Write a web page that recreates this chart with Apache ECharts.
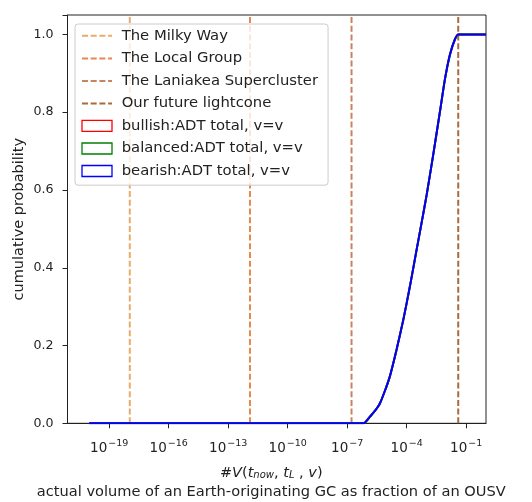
<!doctype html>
<html>
<head>
    <title>Cumulative probability of GC volume</title>
    <script src="https://cdn.jsdelivr.net/npm/echarts@6/dist/echarts.min.js"></script>
</head>
<style>
    html, body {
        margin: 0;
        padding: 0;
        background: #fff;
    }
    #chart {
        width: 532px;
        height: 502px;
    }
</style>
<body>
<div id="chart"></div>
<script>
  // x values are log10 of the volume fraction
  var cdfLogV = [-20, -6.4, -6.1, -5.85, -5.6, -5.35, -5.1, -4.85, -4.51, -4.17, -3.84, -3.5,
                 -3.22, -2.99, -2.66, -2.32, -2.07, -1.82, -1.57, -1.40, 0];
  var bullishProb  = [0, 0, 0.002, 0.017, 0.032, 0.051, 0.083, 0.12, 0.189, 0.266, 0.351, 0.446,
                      0.523, 0.588, 0.691, 0.802, 0.885, 0.948, 0.987, 1.0, 1.0];
  var balancedProb = bullishProb.slice();
  var bearishProb  = bullishProb.slice();

  var markerNames = ['The Milky Way', 'The Local Group', 'The Laniakea Supercluster', 'Our future lightcone'];
  var markerLogV  = [-17.96, -11.9, -6.78, -1.40];
  var markerColors = ['#e6ac6c', '#e6894c', '#c8835f', '#ab6a3e'];

  var curveNames  = ['bullish:ADT total, v=v', 'balanced:ADT total, v=v', 'bearish:ADT total, v=v'];
  var curveColors = ['#ff0000', '#008000', '#0000ff'];

  var xTickValues = [-19, -16, -13, -10, -7, -4, -1];

  var FONT = 'DejaVu Sans';
  var TXT = '#222';
  var Y_TOP = 1.05;

  var chart = echarts.init(document.getElementById('chart'));

  var series = [];
  markerNames.forEach(function (name, i) {
    series.push({
      name: name,
      type: 'line',
      symbol: 'none',
      silent: true,
      z: 3,
      lineStyle: { color: markerColors[i], width: 2, type: [6, 2.7] },
      itemStyle: { color: markerColors[i] },
      data: [[markerLogV[i], 0], [markerLogV[i], Y_TOP]]
    });
  });
  [bullishProb, balancedProb, bearishProb].forEach(function (probs, i) {
    series.push({
      name: curveNames[i],
      type: 'line',
      symbol: 'none',
      smooth: 0.2,
      z: 4,
      lineStyle: { color: curveColors[i], width: 2 },
      itemStyle: { color: curveColors[i] },
      data: cdfLogV.map(function (v, k) { return [v, probs[k]]; })
    });
  });

  var legendData = markerNames.map(function (n) {
      return { name: n, itemStyle: { opacity: 0 } };
    })
    .concat(curveNames.map(function (n, i) {
      return {
        name: n,
        icon: 'rect',
        itemStyle: { color: 'rgba(255,255,255,0)', borderColor: curveColors[i], borderWidth: 1.3 }
      };
    }));

  var option = {
    animation: false,
    backgroundColor: '#fff',
    textStyle: { fontFamily: FONT, color: TXT },
    grid: {
      left: 67.5, right: 46, top: 15, bottom: 78.7,
      outerBoundsMode: 'none',
      containLabel: false,
      show: true, borderColor: '#222', borderWidth: 1, backgroundColor: 'transparent'
    },
    legend: {
      orient: 'vertical',
      left: 75, top: 24,
      padding: [-2.8, 10, -0.5, 6],
      itemWidth: 30, itemHeight: 11, itemGap: -6.8,
      backgroundColor: 'rgba(255,255,255,0.8)',
      borderColor: '#cccccc', borderWidth: 1, borderRadius: 3,
      textStyle: { fontFamily: FONT, fontSize: 14.8, color: TXT },
      formatter: function (name) { return ' ' + name; },
      data: legendData
    },
    xAxis: {
      type: 'value',
      min: -21.1, max: 0,
      splitLine: { show: false },
      axisLine: { onZero: false, lineStyle: { color: '#222' } },
      axisTick: { show: true, inside: false, length: 5, lineStyle: { color: '#222' }, customValues: xTickValues },
      axisLabel: {
        customValues: xTickValues,
        margin: 11,
        color: TXT,
        formatter: function (v) { return '{b|10}{s|\u2212' + Math.abs(v) + '}'; },
        rich: {
          b: { fontFamily: FONT, fontSize: 13.5, color: TXT },
          s: { fontFamily: FONT, fontSize: 9.5, color: TXT, padding: [0, 0, 9, 1] }
        }
      },
      name: '{p|#}{i|V}{p|(}{i|t}{u|now}{p|, }{i|t}{u|L}{p| , }{i|v}{p|)}\n{l|actual volume of an Earth-originating GC as fraction of an OUSV}',
      nameLocation: 'middle',
      nameMoveOverlap: false,
      nameGap: 40,
      nameTextStyle: {
        padding: [0, 11, 0, 0],
        rich: {
          p: { fontFamily: FONT, fontSize: 14.5, color: TXT, lineHeight: 19 },
          i: { fontFamily: FONT, fontSize: 14.5, fontStyle: 'italic', color: TXT, lineHeight: 19 },
          u: { fontFamily: FONT, fontSize: 10, fontStyle: 'italic', color: TXT, lineHeight: 19, padding: [6, 0, 0, 0] },
          l: { fontFamily: FONT, fontSize: 14.6, color: TXT, lineHeight: 19 }
        }
      }
    },
    yAxis: {
      type: 'value',
      position: 'left',
      min: 0, max: Y_TOP,
      interval: 0.2,
      splitLine: { show: false },
      axisLine: { show: true, onZero: false, lineStyle: { color: '#222' } },
      axisTick: { show: true, inside: false, length: 5, lineStyle: { color: '#222' } },
      axisLabel: {
        margin: 14,
        fontFamily: FONT, fontSize: 12.6, color: TXT,
        formatter: function (v) { return v > 1.001 ? '' : v.toFixed(1); }
      },
      name: 'cumulative probability',
      nameLocation: 'middle',
      nameMoveOverlap: false,
      nameGap: 34,
      nameTextStyle: { fontFamily: FONT, fontSize: 14.5, color: TXT }
    },
    series: series
  };

  chart.setOption(option);
</script>
</body>
</html>
